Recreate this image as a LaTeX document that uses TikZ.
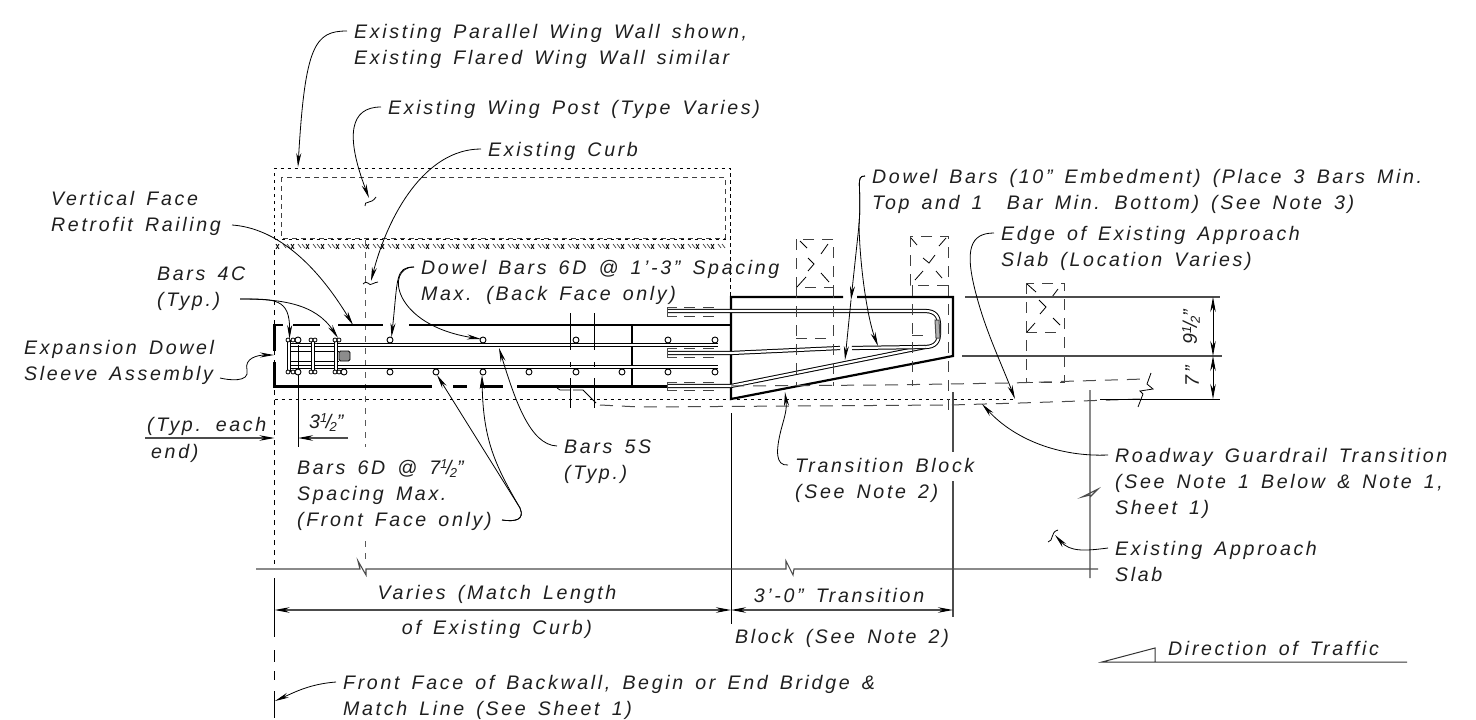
\documentclass[tikz,border=0pt]{standalone}
\usepackage{fontspec}
\setmainfont{Liberation Sans}[LetterSpace=13.5,WordSpace=1.5]
\usetikzlibrary{arrows.meta}
\newcommand\hf{\smash{\raisebox{.55ex}{\fontsize{13}{13}\selectfont 1}\kern-.08em/\kern-.08em\raisebox{-.3ex}{\fontsize{13}{13}\selectfont 2}}}
\newcommand\txt[4]{\node[lbl] (#1) at (#2,#3+7) {#4}; \coordinate (#1-l) at ([shift={(-7pt,7pt)}]#1.base west);}
\newcommand\tip[3]{\coordinate (#1) at (#2,#3);}
\tikzset{
 lbl/.style={anchor=base west,inner sep=0pt,font=\fontsize{19.6}{22}\selectfont\itshape,text=black!88},
 ctr/.style={lbl,anchor=base},
 hair/.style={line width=.8pt,black},
 ext/.style={line width=1.1pt,black!70},
 heavy/.style={line width=2.2pt,black,line cap=butt},
 leader/.style={line width=.8pt,black,-{Stealth[length=14pt,width=5pt]}},
 dimline/.style={line width=1.1pt,black!70},
 tipboth/.style={{Stealth[length=15pt,width=5.5pt,black]}-{Stealth[length=15pt,width=5.5pt,black]}},
 dot/.style={line width=.8pt,black,dash pattern=on 3.5pt off 3.5pt},
 dsh/.style={line width=1pt,black!75,dash pattern=on 11pt off 8pt},
 longd/.style={line width=1pt,black!70,dash pattern=on 13pt off 9pt},
 rebar/.style={double=white,double distance=2.2pt,line width=1pt,black},
 bar/.style={circle,draw=black,line width=.9pt,fill=white,inner sep=0pt,minimum size=6pt},
 small/.style={circle,draw=black,line width=.8pt,fill=white,inner sep=0pt,minimum size=4pt},
}
\begin{document}
\begin{tikzpicture}[x=1pt,y=-1pt]
\useasboundingbox[fill=white] (0,0) rectangle (1476,720);
% existing wall outlines
\draw[dot] (274.5,239) -- (274.5,168) -- (730.5,168) -- (730.5,297);
\draw[dsh,dash pattern=on 5pt off 4pt] (281,177) rectangle (725,238);
\draw[dot] (274.5,239) -- (730.5,239);
\foreach \x in {276,291,...,716}{
 \draw[line width=.8pt] (\x,244) -- (\x+3,249) (\x+3,244) -- (\x,249);
 \draw[line width=.7pt,black!75] (\x+7,244) -- (\x+10,248) (\x+11,244) -- (\x+14,248);
}
% centre / match lines
\draw[line width=.9pt,dash pattern=on 5pt off 5pt] (274.5,250) -- (274.5,564);
\draw[hair,line width=1pt] (274.5,578) -- (274.5,637);
\draw[hair,line width=1pt] (274.5,650) -- (274.5,662) (274.5,671) -- (274.5,680) (274.5,691) -- (274.5,718);
\draw[line width=1.1pt,black!65,dash pattern=on 6pt off 6pt] (365.5,240) -- (365.5,447) (365.5,541) -- (365.5,562);
\draw[dot] (274.5,399) -- (1016,399);
% block outline
\draw[heavy] (283,325) -- (274.5,325) -- (274.5,351);
\draw[heavy] (293,325) -- (320,325) (338,325) -- (383,325) (409,325) -- (731,325);
\draw[heavy] (274.5,362) -- (274.5,386.5) -- (432,386.5) (453,386.5) -- (467,386.5) (480,386.5) -- (503,386.5) (517,386.5) -- (731,386.5);
\draw[heavy] (632,325) -- (632,386.5);
% reinforcing
\draw[rebar] (287,345) -- (718,345);
\draw[rebar] (287,367) -- (718,367);
\draw[hair] (287,351) -- (339,351) (287,361) -- (339,361);
\draw[hair] (298,345) -- (298,447);
\draw[rebar] (289,340) -- (289,372);
\draw[rebar] (313,340) -- (313,372);
\draw[rebar] (336,340) -- (336,372);
\draw[draw=black,fill=black!45,line width=.9pt,rounded corners=1.5pt] (339,351) rectangle (350,361);
\foreach \x in {288,293,311,315,335,339}{
 \node[small] at (\x,340) {};
 \node[small] at (\x,372) {};
}
\foreach \x in {298,390,483,576,668,715}{\node[bar] (ct\x) at (\x,340) {};}
\foreach \x in {298,344,390,436,483,529,576,622,668,715}{\node[bar] (cb\x) at (\x,372) {};}
\foreach \x in {570,594}{\draw[hair] (\x,313) -- (\x,350) (\x,362) -- (\x,367) (\x,378) -- (\x,408);}
% transition block
\draw[heavy,line join=miter] (843,297) -- (731,297) -- (731,399) -- (953,356) -- (953,297) -- (857,297);
\draw[rebar] (668,311) -- (925,311) .. controls (935,311) and (939,316) .. (939,325) -- (939,333) .. controls (939,342) and (935,347) .. (925,347) -- (731,386) -- (668,386);
\draw[rebar] (668,353) -- (731,353) -- (840,348);
\draw[rebar] (852,348) -- (925,347);
\draw[line width=1pt,black!70,fill=black!30] (935,320) -- (939,320) -- (940,338) -- (936,338) -- cycle;
\foreach \ya/\yb in {307/316,348/357,382/390}{
 \draw[line width=1pt,black!70] (677,\ya) -- (667,\ya) -- (667,\yb) -- (677,\yb);
 \draw[dsh] (684,\ya) -- (722,\ya) (684,\yb) -- (722,\yb);
}
% posts
\draw[dsh] (796,239) rectangle (833,287);
\draw[dsh] (796,287) -- (796,386) (833,287) -- (833,386) (796,338) -- (833,338);
\draw[hair] (800,241) -- (807,248) (828,244) -- (821,254) (797,287) -- (806,277) (829,282) -- (821,273) (808,258) -- (814,264) -- (808,271);
\draw[dsh] (910,236) rectangle (948,285);
\draw[dsh] (912,285) -- (912,386) (948,285) -- (948,412) (912,335) -- (925,335);
\draw[hair] (911,238) -- (917,245) (946,238) -- (939,246) (915,280) -- (923,271) (942,278) -- (936,271) (923,258) -- (929,263) -- (935,255);
\draw[dsh] (1026,283) rectangle (1064,382);
\draw[dsh] (1026,332) -- (1064,332);
\draw[hair] (1027,284) -- (1036,292) (1058,289) -- (1052,297) (1039,300) -- (1046,307) -- (1040,314) (1027,332) -- (1035,323) (1053,318) -- (1060,325);
% existing slab / guardrail lines
\draw[longd] (731,386) -- (885,385) -- (1010,383) -- (1145,379);
\draw[hair] (557,388) -- (560,390) -- (571,390) (573,390) -- (583,390) -- (596,403);
\draw[longd] (600,405) -- (640,407) -- (950,405) -- (1020,403) -- (1140,399);
\draw[hair] (1151,373) -- (1147,384) -- (1153,389) -- (1140,391) -- (1143,394) -- (1138,407);
% extension lines
\draw[hair] (731,413) -- (731,624);
\draw[ext] (953,392) -- (953,452) (953,481) -- (953,617);
\draw[ext] (965,297) -- (1220,297) (962,356) -- (1222,356);
\draw[hair] (1100,399) -- (1220,399);
\draw[ext] (1090,390) -- (1090,497) -- (1098,489) -- (1082,497) -- (1090,495) -- (1090,578);
\draw[ext] (256,569) -- (360,569) -- (358,561) -- (366,575) -- (366,569) -- (786,569) -- (786,561) -- (793,575) -- (794,569) -- (1098,569);
% dimensions
\tip{da}{274.5}{610}\tip{db}{731}{610}\tip{dc}{953}{610}
\draw[dimline,tipboth] (da) -- (db);
\draw[dimline,tipboth] (db) -- (dc);
\tip{dd}{1213}{297}\tip{de}{1213}{356}\tip{df}{1213}{399}
\draw[hair,tipboth] (dd) -- (de);
\draw[hair,tipboth] (de) -- (df);
\tip{dg}{145}{438}\tip{dh}{274.5}{438}\tip{di}{298}{438}\tip{dj}{348}{438}
\draw[dimline,-{Stealth[length=15pt,width=5.5pt,black]}] (dg) -- (dh);
\draw[dimline,-{Stealth[length=15pt,width=5.5pt,black]}] (dj) -- (di);
% labels
\txt{a1}{354}{31}{Existing Parallel Wing Wall shown,}
\txt{a2}{354}{57}{Existing Flared Wing Wall similar}
\txt{b1}{388}{107}{Existing Wing Post (Type Varies)}
\txt{c1}{488}{149}{Existing Curb}
\txt{d1}{51}{198}{Vertical Face}
\txt{d2}{51}{224}{Retrofit Railing}
\txt{e1}{157}{273}{Bars 4C}
\txt{e2}{157}{299}{(Typ.)}
\txt{f1}{421}{267}{Dowel Bars 6D @ 1'-3" Spacing}
\txt{f2}{421}{293}{Max. (Back Face only)}
\txt{g1}{24}{347}{Expansion Dowel}
\txt{g2}{24}{373}{Sleeve Assembly}
\txt{h1}{147}{424}{(Typ. each}
\txt{h2}{151}{451}{end)}
\txt{i1}{309}{421}{3\hf"}
\txt{j1}{297}{467}{Bars 6D @ 7\hf"}
\txt{j2}{297}{493}{Spacing Max.}
\txt{j3}{297}{519}{(Front Face only)}
\txt{k1}{564}{446}{Bars 5S}
\txt{k2}{564}{472}{(Typ.)}
\txt{l1}{795}{465}{Transition Block}
\txt{l2}{795}{491}{(See Note 2)}
\txt{m1}{872}{176}{Dowel Bars (10" Embedment) (Place 3 Bars Min.}
\txt{m2}{872}{202}{Top and 1\ \ Bar Min. Bottom) (See Note 3)}
\txt{n1}{1001}{233}{Edge of Existing Approach}
\txt{n2}{1001}{259}{Slab (Location Varies)}
\txt{o1}{1115}{455}{Roadway Guardrail Transition}
\txt{o2}{1115}{481}{(See Note 1 Below \& Note 1,}
\txt{o3}{1115}{507}{Sheet 1)}
\txt{p1}{1115}{548}{Existing Approach}
\txt{p2}{1115}{574}{Slab}
\txt{q1}{1168}{648}{Direction of Traffic}
\txt{r1}{343}{682}{Front Face of Backwall, Begin or End Bridge \&}
\txt{r2}{343}{708}{Match Line (See Sheet 1)}
\node[ctr] (s1) at (497,599) {Varies (Match Length};
\node[ctr] (s2) at (497,634) {of Existing Curb)};
\node[ctr] (s3) at (839,602) {3'-0" Transition};
\node[ctr] (s4) at (842,643) {Block (See Note 2)};
\node[lbl,anchor=center,rotate=90] (v1) at (1190,327) {9\hf"};
\node[lbl,anchor=center,rotate=90] (v2) at (1192,376) {7"};
% direction of traffic
\coordinate (tr1) at (1102,662);\coordinate (tr2) at (1155,648);\coordinate (tr3) at (1155,662);\coordinate (tr4) at (1407,662);
\draw[line width=1pt,black!80] (tr3) -- (tr2) -- (tr1) -- (tr4);
% leaders
\coordinate (d2s) at (232,225);\coordinate (e2s) at (240,299);\coordinate (g2s) at (220,378);\coordinate (j3s) at (502,520);
\tip{ta}{298}{167}\draw[leader] (a1-l) .. controls (315,31) and (305,45) .. (ta);
\tip{tb}{369}{198}\draw[leader] (b1-l) .. controls (350,107) and (345,135) .. (tb);
\draw[hair] (365,206) .. controls (364,200) and (371,205) .. (376,197);
\tip{tc}{371}{281}\draw[leader] (c1-l) .. controls (425,149) and (388,215) .. (tc);
\draw[hair] (363,284) .. controls (368,279) and (369,287) .. (372,284) .. controls (375,282) and (376,283) .. (378,282);
\tip{td}{353}{325}\draw[leader] (d2s) .. controls (275,228) and (315,262) .. (td);
\tip{te}{289.5}{339}\draw[leader] (e2s) .. controls (275,299) and (290,298) .. (te);
\tip{tf}{338}{338}\draw[leader] (e2s) .. controls (280,299) and (315,303) .. (tf);
\tip{tg}{391.5}{337}\draw[leader] (f1-l) .. controls (395,267) and (398,278) .. (tg);
\tip{th}{481}{339}\draw[leader] (f1-l) .. controls (385,267) and (392,325) .. (th);
\tip{ti}{274}{355}\draw[leader] (g2s) .. controls (228,380) and (250,383) .. (247,370) .. controls (244,358) and (258,355) .. (ti);
\tip{tj}{499}{348}\draw[leader] (k1-l) .. controls (530,445) and (515,400) .. (tj);
\tip{tk}{437}{375}\tip{tl}{482}{375}
\draw[leader] (j3s) .. controls (515,522) and (525,520) .. (520,508) -- (tk);
\draw[leader] (j3s) .. controls (515,522) and (525,520) .. (520,508) .. controls (495,465) and (483,440) .. (tl);
\tip{tm}{785}{392}\draw[leader] (l1-l) .. controls (775,466) and (776,450) .. (781,430) .. controls (785,415) and (787,410) .. (tm);
\tip{tn}{845}{360}\tip{to}{878}{346}\tip{tp}{851}{300}
\draw[leader] (m1-l) .. controls (855,176) and (862,185) .. (859,225) -- (tp);
\draw[leader] (tp) -- (tn);
\draw[leader] (m1-l) .. controls (855,176) and (862,185) .. (859,225) .. controls (860,270) and (868,320) .. (to);
\tip{tq}{1015}{399}\draw[leader] (n1-l) .. controls (970,233) and (965,250) .. (975,290) .. controls (985,330) and (1000,360) .. (tq);
\tip{tr}{982}{404}\draw[leader] (o1-l) .. controls (1060,457) and (1015,440) .. (tr);
\tip{ts}{1055}{535}\draw[leader] (p1-l) .. controls (1085,551) and (1070,552) .. (ts);
\draw[hair] (1048,542) .. controls (1054,541) and (1050,532) .. (1058,530);
\tip{tt}{275}{701}\draw[leader] (r1-l) .. controls (310,684) and (295,692) .. (tt);
\end{tikzpicture}
\end{document}
